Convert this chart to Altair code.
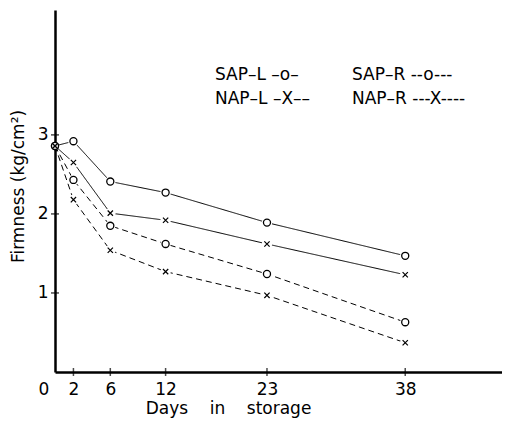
import altair as alt
import pandas as pd

days = [0, 2, 6, 12, 23, 38]
sap_l = [2.86, 2.92, 2.41, 2.27, 1.89, 1.47]
nap_l = [2.86, 2.65, 2.01, 1.92, 1.62, 1.23]
sap_r = [2.86, 2.43, 1.85, 1.62, 1.24, 0.63]
nap_r = [2.86, 2.18, 1.54, 1.27, 0.97, 0.37]
series_names = ["SAP-L", "NAP-L", "SAP-R", "NAP-R"]
x_ticks = [2, 6, 12, 23, 38]
y_ticks = [1, 2, 3]
legend_left = ["SAP–L –o–", "NAP–L –X––"]
legend_right = ["SAP–R --o---", "NAP–R ---X----"]

rows = []
for name, vals in zip(series_names, [sap_l, nap_l, sap_r, nap_r]):
    for d, v in zip(days, vals):
        rows.append({"series": name, "day": d, "value": v,
                     "marker": "o" if name.startswith("SAP") else "x"})
df = pd.DataFrame(rows)

FONT = "DejaVu Sans"
xscale = alt.Scale(domain=[0, 48.5], nice=False, zero=True)
yscale = alt.Scale(domain=[0, 4.58], nice=False, zero=True)

xenc = alt.X("day:Q", scale=xscale, axis=alt.Axis(
    values=days, format="d", title="Days\u00a0\u00a0\u00a0 in\u00a0\u00a0\u00a0 storage",
    labelOffset={"condition": {"test": "datum.value === 0", "value": -17}, "value": 0},
    labelPadding=9, titleX=173, titleY=36, titleAnchor="start", titleAlign="center",
    titleBaseline="middle", titleFontWeight="normal"))
yenc = alt.Y("value:Q", scale=yscale, axis=alt.Axis(
    values=y_ticks, format="d", title="Firmness (kg/cm²)", labelPadding=7,
    titleX=-37, titleY=176, titleAngle=-90, titleAlign="center", titleAnchor="start",
    titleBaseline="middle", titleFontWeight="normal"))

base = alt.Chart(df)

lines = base.mark_line(color="black", strokeWidth=1).encode(
    x=xenc, y=yenc, detail="series:N",
    strokeDash=alt.StrokeDash("series:N", legend=None, scale=alt.Scale(
        domain=series_names, range=[[1, 0], [1, 0], [6, 4], [6, 4]])))

halo = base.transform_filter("datum.day > 0").mark_point(
    filled=True, color="white", size=110, opacity=1).encode(x="day:Q", y="value:Q")

circles = base.transform_filter("datum.marker == 'o'").mark_point(
    shape="circle", filled=True, fill="white", stroke="black",
    strokeWidth=1.3, size=50, opacity=1).encode(x="day:Q", y="value:Q")

crosses = base.transform_filter("datum.marker == 'x'").mark_point(
    shape="M-1,-1L1,1M-1,1L1,-1", filled=False, stroke="black",
    strokeWidth=1.2, size=28, opacity=1).encode(x="day:Q", y="value:Q")

xt = alt.Chart(pd.DataFrame({"t": x_ticks, "z": [0] * len(x_ticks)})).mark_tick(
    orient="vertical", color="black", size=8, thickness=1.5).encode(
    x=alt.X("t:Q"), y=alt.Y("z:Q"))
yt = alt.Chart(pd.DataFrame({"t": y_ticks, "z": [0] * len(y_ticks)})).mark_tick(
    orient="horizontal", color="black", size=8, thickness=1.5).encode(
    y=alt.Y("t:Q"), x=alt.X("z:Q"))


def leg(text, x, y):
    return alt.Chart(pd.DataFrame({"txt": [text]})).mark_text(
        align="left", baseline="middle", font=FONT, fontSize=17, color="black").encode(
        text="txt:N", x=alt.value(x), y=alt.value(y))


legends = (leg(legend_left[0], 160, 65) + leg(legend_left[1], 160, 89)
           + leg(legend_right[0], 297, 65) + leg(legend_right[1], 297, 89))

chart = alt.layer(lines, halo, circles, crosses, xt, yt, legends).properties(
    width=447, height=362,
    background="white",
    autosize=alt.AutoSizeParams(type="none"),
    padding={"left": 47, "top": 2, "right": 0, "bottom": 50},
).configure_view(stroke=None).configure_axis(
    grid=False, ticks=False, domainColor="black", domainWidth=2.5,
    labelFont=FONT, labelFontSize=17, labelColor="black",
    titleFont=FONT, titleFontSize=17, titleColor="black",
)

chart.save("out.html", embed_options={"renderer": "svg", "actions": False})
